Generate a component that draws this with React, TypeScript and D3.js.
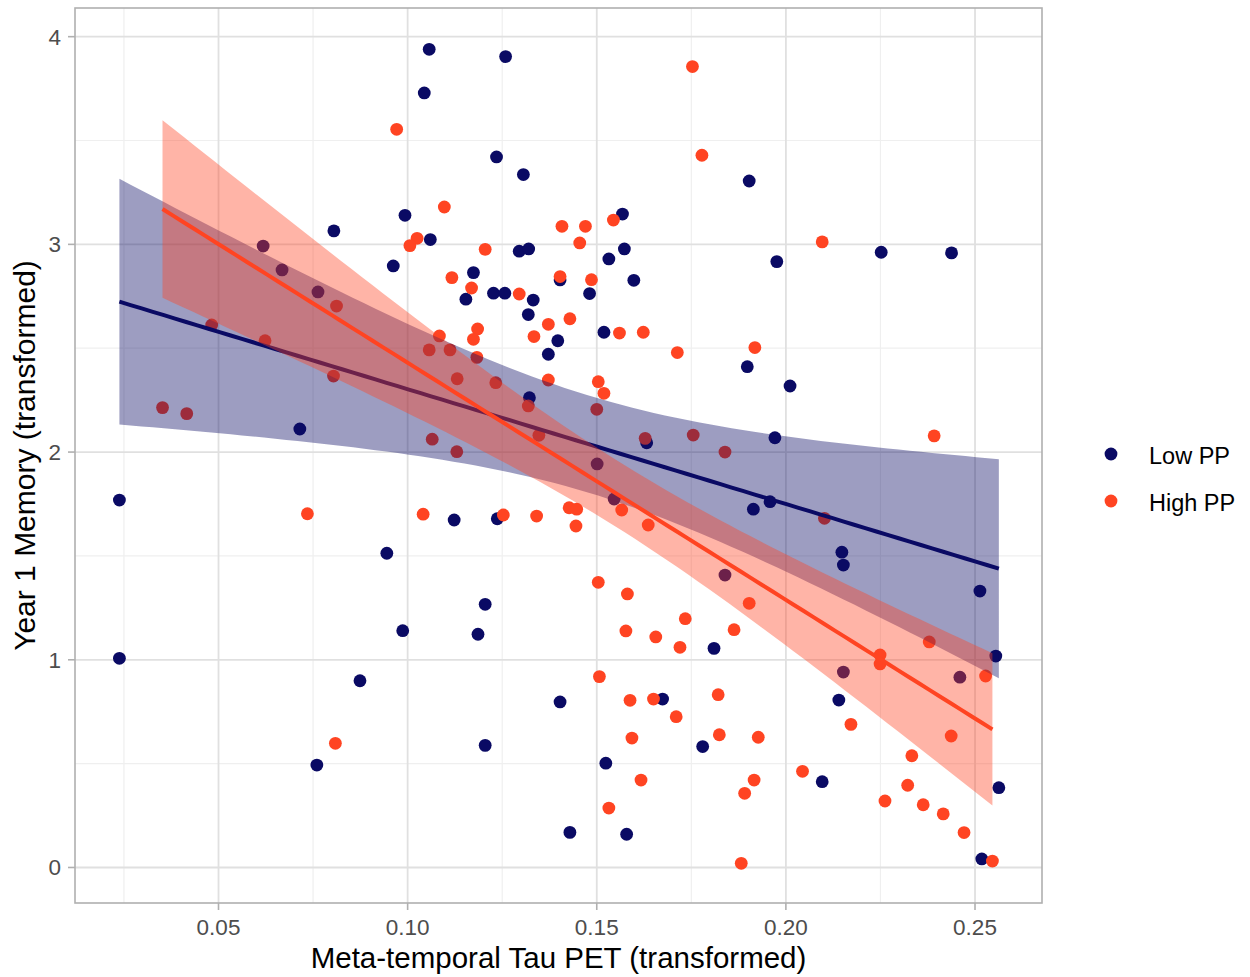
import React from "react";
import * as d3 from "d3";

// ---- Data ----
const lowPP_x = [
  0.0238, 0.0238, 0.1057, 0.1044, 0.1259, 0.1235, 0.1306, 0.1903, 0.1568, 0.0993,
  0.0805, 0.1060, 0.0618, 0.1295, 0.1320, 0.1573, 0.2252, 0.2438, 0.0962, 0.1532,
  0.1976, 0.0668, 0.0763, 0.1174, 0.1403, 0.1598, 0.1154, 0.1227, 0.1257, 0.1332,
  0.1481, 0.1319, 0.1519, 0.1397, 0.1372, 0.1322, 0.0715, 0.1632, 0.1501, 0.1546,
  0.1123, 0.1237, 0.0945, 0.1205, 0.1898, 0.2011, 0.1971, 0.1958, 0.1914, 0.2148,
  0.2152, 0.2513, 0.1839, 0.0874, 0.0760, 0.0987, 0.1186, 0.1810, 0.1403, 0.1674,
  0.1780, 0.1205, 0.1524, 0.1429, 0.1579, 0.2096, 0.2140, 0.2152, 0.2460, 0.2555,
  0.2518, 0.2563,
];
const lowPP_y = [
  1.769, 1.007, 3.939, 3.729, 3.904, 3.421, 3.336, 3.305, 3.146, 3.140,
  3.065, 3.023, 2.992, 2.967, 2.978, 2.978, 2.962, 2.959, 2.896, 2.930,
  2.917, 2.877, 2.771, 2.864, 2.829, 2.827, 2.736, 2.765, 2.765, 2.732,
  2.763, 2.662, 2.577, 2.536, 2.471, 2.262, 2.111, 2.045, 1.943, 1.774,
  1.673, 1.679, 1.513, 1.267, 2.411, 2.318, 2.069, 1.761, 1.725, 1.518,
  1.456, 1.331, 1.408, 0.899, 0.493, 1.140, 1.123, 1.055, 0.797, 0.811,
  0.582, 0.588, 0.502, 0.169, 0.160, 0.413, 0.806, 0.941, 0.916, 1.018,
  0.041, 0.384,
];
const highPP_x = [
  0.0971, 0.1753, 0.1778, 0.1097, 0.1544, 0.1025, 0.1006, 0.1205, 0.1408, 0.1470,
  0.1455, 0.2096, 0.1117, 0.1169, 0.1403, 0.1486, 0.1295, 0.0812, 0.0482, 0.0623,
  0.0804, 0.0352, 0.0416, 0.0735, 0.1372, 0.1429, 0.1560, 0.1623, 0.1713, 0.1334,
  0.1185, 0.1174, 0.1084, 0.1057, 0.1112, 0.1183, 0.1131, 0.1233, 0.1372, 0.1319,
  0.1504, 0.1519, 0.1500, 0.1347, 0.1065, 0.1130, 0.1628, 0.1755, 0.1566, 0.1636,
  0.1041, 0.1253, 0.1341, 0.1427, 0.1447, 0.1445, 0.1504, 0.1581, 0.1918, 0.2392,
  0.1839, 0.2102, 0.1903, 0.0809, 0.1577, 0.1656, 0.1734, 0.1720, 0.1507, 0.1588,
  0.1650, 0.1710, 0.1821, 0.1824, 0.1593, 0.1617, 0.1532, 0.1863, 0.1927, 0.1916,
  0.1891, 0.1882, 0.2044, 0.2172, 0.2249, 0.2249, 0.2379, 0.2528, 0.2437, 0.2333,
  0.2322, 0.2262, 0.2363, 0.2416, 0.2471, 0.2546,
];
const highPP_y = [
  3.554, 3.856, 3.429, 3.180, 3.117, 3.029, 2.994, 2.976, 3.087, 3.087,
  3.007, 3.012, 2.840, 2.790, 2.845, 2.830, 2.761, 2.703, 2.612, 2.536,
  2.366, 2.214, 2.185, 1.703, 2.615, 2.642, 2.573, 2.577, 2.479, 2.556,
  2.593, 2.543, 2.559, 2.492, 2.492, 2.456, 2.353, 2.334, 2.347, 2.222,
  2.339, 2.283, 2.206, 2.081, 2.062, 2.002, 2.066, 2.082, 1.721, 1.649,
  1.701, 1.697, 1.692, 1.732, 1.725, 1.644, 1.373, 1.317, 2.503, 2.078,
  2.000, 1.681, 1.272, 0.598, 1.139, 1.110, 1.198, 1.060, 0.919, 0.805,
  0.811, 0.726, 0.832, 0.639, 0.623, 0.421, 0.286, 1.145, 0.627, 0.421,
  0.357, 0.020, 0.463, 0.689, 1.023, 0.980, 1.086, 0.922, 0.633, 0.538,
  0.396, 0.320, 0.302, 0.258, 0.168, 0.031,
];

const groupNames = ["Low PP", "High PP"];
const xTicks = [0.05, 0.1, 0.15, 0.2, 0.25];
const xMinor = [0.025, 0.075, 0.125, 0.175, 0.225];
const yTicks = [0, 1, 2, 3, 4];
const yMinor = [0.5, 1.5, 2.5, 3.5];
const xTitle = "Meta-temporal Tau PET (transformed)";
const yTitle = "Year 1 Memory (transformed)";

const COLORS = ["#0a0a64", "#ff4422"];
const FONT = "'Liberation Sans', Arial, Helvetica, sans-serif";

function lmFit(xs: number[], ys: number[]) {
  const n = xs.length;
  const mx = d3.mean(xs)!;
  const my = d3.mean(ys)!;
  let sxx = 0, sxy = 0;
  for (let i = 0; i < n; i++) {
    sxx += (xs[i] - mx) ** 2;
    sxy += (xs[i] - mx) * (ys[i] - my);
  }
  const b = sxy / sxx;
  const a = my - b * mx;
  let sse = 0;
  for (let i = 0; i < n; i++) sse += (ys[i] - a - b * xs[i]) ** 2;
  const s2 = sse / (n - 2);
  const df = n - 2;
  const z = 1.959964;
  const t = z + (z ** 3 + z) / (4 * df) + (5 * z ** 5 + 16 * z ** 3 + 3 * z) / (96 * df * df);
  const [x0, x1] = d3.extent(xs) as [number, number];
  const pts = d3.range(80).map((i) => {
    const x = x0 + ((x1 - x0) * i) / 79;
    const yh = a + b * x;
    const se = Math.sqrt(s2 * (1 / n + (x - mx) ** 2 / sxx));
    return { x, y: yh, lo: yh - t * se, hi: yh + t * se };
  });
  return pts;
}

export default function App() {
  const W = 1250, H = 977;
  const L = 75, R = 1042, T = 8, B = 903;
  const x = d3.scaleLinear().domain([0.01206, 0.26771]).range([L, R]);
  const y = d3.scaleLinear().domain([-0.171, 4.138]).range([B, T]);

  const groups = [
    { xs: lowPP_x, ys: lowPP_y },
    { xs: highPP_x, ys: highPP_y },
  ];
  const fits = groups.map((g) => lmFit(g.xs, g.ys));

  const area = d3
    .area<{ x: number; lo: number; hi: number }>()
    .x((d) => x(d.x))
    .y0((d) => y(d.lo))
    .y1((d) => y(d.hi));
  const line = d3
    .line<{ x: number; y: number }>()
    .x((d) => x(d.x))
    .y((d) => y(d.y));

  return (
    <svg
      width={W}
      height={H}
      style={{ position: "absolute", left: 0, top: 0, background: "#fff" }}
      fontFamily={FONT}
    >
      <rect x={0} y={0} width={W} height={H} fill="#fff" />
      <defs>
        <clipPath id="panel">
          <rect x={L} y={T} width={R - L} height={B - T} />
        </clipPath>
      </defs>
      {/* minor grid */}
      {xMinor.map((v) => (
        <line key={"xm" + v} x1={x(v)} x2={x(v)} y1={T} y2={B} stroke="#efefef" strokeWidth={1.2} />
      ))}
      {yMinor.map((v) => (
        <line key={"ym" + v} x1={L} x2={R} y1={y(v)} y2={y(v)} stroke="#efefef" strokeWidth={1.2} />
      ))}
      {/* major grid */}
      {xTicks.map((v) => (
        <line key={"xM" + v} x1={x(v)} x2={x(v)} y1={T} y2={B} stroke="#e0e0e0" strokeWidth={1.8} />
      ))}
      {yTicks.map((v) => (
        <line key={"yM" + v} x1={L} x2={R} y1={y(v)} y2={y(v)} stroke="#e0e0e0" strokeWidth={1.8} />
      ))}
      {/* points */}
      <g clipPath="url(#panel)">
        {groups.map((g, gi) =>
          g.xs.map((xv, i) => (
            <circle key={gi + "-" + i} cx={x(xv)} cy={y(g.ys[i])} r={6.4} fill={COLORS[gi]} />
          ))
        )}
        {/* smooths: ribbon then line per group */}
        {fits.map((f, gi) => (
          <g key={"fit" + gi}>
            <path d={area(f) || ""} fill={COLORS[gi]} fillOpacity={0.4} />
            <path d={line(f) || ""} fill="none" stroke={COLORS[gi]} strokeWidth={4} />
          </g>
        ))}
      </g>
      {/* panel border */}
      <rect x={L} y={T} width={R - L} height={B - T} fill="none" stroke="#b0b0b0" strokeWidth={1.6} />
      {/* axes ticks & labels */}
      {xTicks.map((v) => (
        <g key={"xt" + v}>
          <line x1={x(v)} x2={x(v)} y1={B} y2={B + 7} stroke="#b0b0b0" strokeWidth={1.6} />
          <text x={x(v)} y={935} textAnchor="middle" fontSize={22.5} fill="#4d4d4d">
            {d3.format(".2f")(v)}
          </text>
        </g>
      ))}
      {yTicks.map((v) => (
        <g key={"yt" + v}>
          <line x1={L - 7} x2={L} y1={y(v)} y2={y(v)} stroke="#b0b0b0" strokeWidth={1.6} />
          <text x={61} y={y(v) + 8} textAnchor="end" fontSize={22.5} fill="#4d4d4d">
            {v}
          </text>
        </g>
      ))}
      <text x={(L + R) / 2} y={968} textAnchor="middle" fontSize={29.5} fill="#000">
        {xTitle}
      </text>
      <text
        transform={`translate(35, ${(T + B) / 2}) rotate(-90)`}
        textAnchor="middle"
        fontSize={30}
        fill="#000"
      >
        {yTitle}
      </text>
      {/* legend */}
      {groupNames.map((nm, i) => (
        <g key={nm}>
          <circle cx={1111} cy={454 + i * 47} r={6.4} fill={COLORS[i]} />
          <text x={1149} y={464 + i * 47} fontSize={23.5} fill="#000">
            {nm}
          </text>
        </g>
      ))}
    </svg>
  );
}
